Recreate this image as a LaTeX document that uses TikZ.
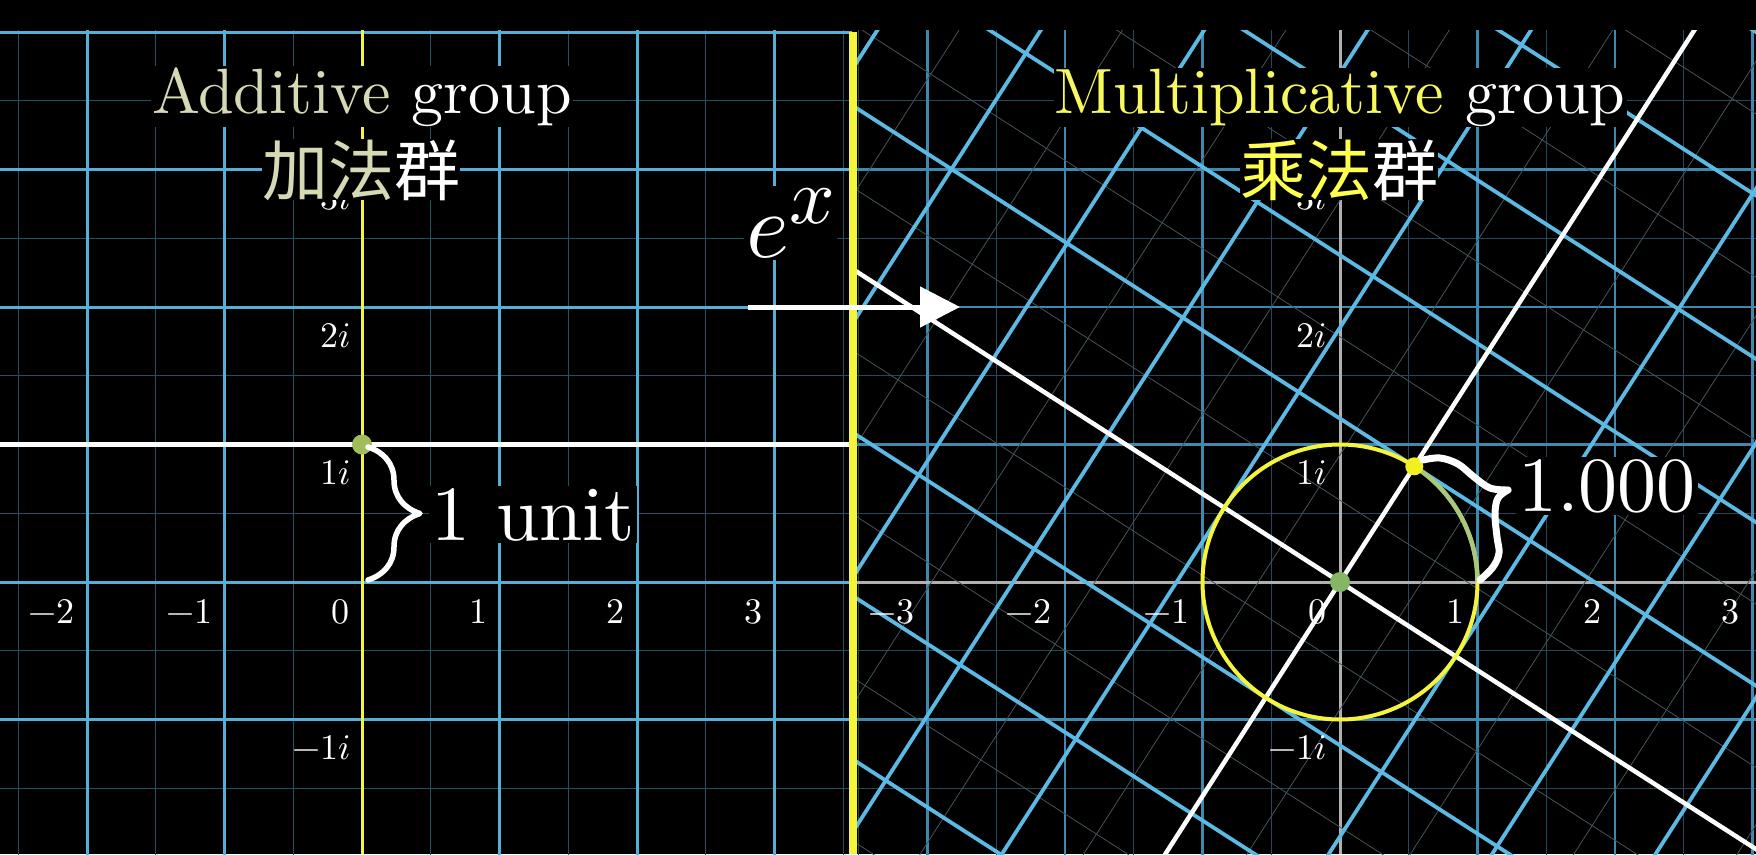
\documentclass[tikz,border=0pt]{standalone}
\usepackage{fontspec}
\usepackage{unicode-math}
\setmainfont{lmroman10-regular.otf}[ItalicFont=lmroman10-italic.otf, BoldFont=lmroman10-bold.otf]
\setmathfont{Latin Modern Math}
\newfontfamily\cjkfont{Noto Sans CJK SC}
\usetikzlibrary{arrows.meta,decorations.pathreplacing}

\definecolor{majblue}{HTML}{55B0D8}
\definecolor{minblue}{HTML}{24505F}
\definecolor{dimblue}{HTML}{3F88AE}
\definecolor{dimminor}{HTML}{26485A}
\definecolor{rotblue}{HTML}{5BB9E3}
\definecolor{rotminor}{HTML}{44545B}
\definecolor{axgray}{HTML}{B0B0B0}
\definecolor{ylw}{HTML}{F4F43C}
\definecolor{ylwtext}{HTML}{F7F75E}
\definecolor{ylwcjk}{HTML}{FFFF4D}
\definecolor{addc}{HTML}{D6D9B4}
\definecolor{dotgreen}{HTML}{85B565}
\definecolor{dotolive}{HTML}{A2BC5C}
\definecolor{ylwdot}{HTML}{F2F020}
\definecolor{arcgreen}{HTML}{A8C87C}

\begin{document}
\begin{tikzpicture}[x=1pt,y=-1pt,
  majl/.style={line width=3pt, draw=majblue},
  minl/.style={line width=1.3pt, draw=minblue},
  dimmaj/.style={line width=2.8pt, draw=dimblue},
  dimmin/.style={line width=1.1pt, draw=dimminor},
  rotmaj/.style={line width=3.8pt, draw=rotblue},
  rotmin/.style={line width=0.8pt, draw=rotminor},
  whl/.style={line width=4.5pt, draw=white},
  axl/.style={line width=3pt, draw=axgray},
  yax/.style={line width=3pt, draw=ylw},
  circl/.style={line width=4pt, draw=ylw},
  garc/.style={line width=4.5pt, draw=arcgreen},
  numlbl/.style={anchor=base east, text=white, inner sep=0pt, font=\fontsize{36}{36}\selectfont},
  titlebox/.style={anchor=base, text=white, fill=black, inner sep=1pt, font=\fontsize{64}{64}\selectfont},
  cjkbox/.style={anchor=base, text=white, fill=black, inner sep=0pt, font=\cjkfont\fontsize{66}{66}\selectfont},
  bigtxt/.style={anchor=base west, text=white, fill=black, inner sep=2pt, font=\fontsize{78}{78}\selectfont},
  dotstyle/.style={circle, inner sep=0pt, minimum size=20pt},
  bracel/.style={draw=white, line width=5.5pt, line cap=round, line join=round},
]
\fill[black] (0,0) rectangle (1756,854);
\useasboundingbox (0,0) rectangle (1756,854);

% ---------- left panel ----------
\begin{scope}
\clip (0,30.5) rectangle (852,854);
\foreach \k in {-3,...,3} \draw[minl] ({362+137.5*(\k+0.5)},30) -- ++(0,830);
\foreach \k in {-4,...,1} \draw[minl] (0,{582+137.5*(\k+0.5)}) -- ++(860,0);
\foreach \k in {-2,-1,1,2,3} \draw[majl] ({362+137.5*(\k)},30) -- ++(0,830);
\foreach \k in {-1,0,1,2,3,4} \draw[majl] (0,{582-137.5*(\k)}) -- ++(860,0);
\draw[yax] (362,30) -- (362,854);
\draw[whl] (0,444.5) -- (853,444.5);
\end{scope}
\foreach \k in {-2,...,3} \node[numlbl] (lr\k) at ({362+137.5*(\k)-12},623) {$\k$};
\foreach \k in {3,2,1,-1} \node[numlbl] (li\k) at (351,{582-137.5*(\k)+40}) {$\k i$};

% ---------- right panel ----------
\begin{scope}
\clip (857,30.5) rectangle (1756,854);
\foreach \k in {-4,...,2} \draw[dimmin] ({1340+137.5*(\k+0.5)},30) -- ++(0,830);
\foreach \k in {-4,...,1} \draw[dimmin] (850,{582+137.5*(\k+0.5)}) -- ++(910,0);
\foreach \k in {-3,-2,-1,1,2,3} \draw[dimmaj] ({1340+137.5*(\k)},30) -- ++(0,830);
\foreach \k in {-1,1,2,3} \draw[dimmaj] (850,{582-137.5*(\k)}) -- ++(910,0);
\draw[axl] (1340,30) -- (1340,854);
\draw[axl] (850,582) -- (1756,582);
\begin{scope}[shift={(1340,582)}, x=137.5pt, y=137.5pt, rotate=57.2958]
  \foreach \k in {-6.5,-5.5,...,6.5} {\draw[rotmin] (\k,-8) -- (\k,8); \draw[rotmin] (-8,\k) -- (8,\k);}
  \foreach \k in {-6,-5,-4,-3,-2,-1,1,2,3,4,5,6} {\draw[rotmaj] (\k,-8) -- (\k,8); \draw[rotmaj] (-8,\k) -- (8,\k);}
  \draw[whl] (0,-8) -- (0,8);
  \draw[whl] (-8,0) -- (8,0);
\end{scope}
\begin{scope}[shift={(1340,582)}, x=137.5pt, y=137.5pt]
  \coordinate (O) at (0,0);
  \coordinate (ei) at (57.2958:1);
  \coordinate (one) at (1,0);
\end{scope}
\draw[circl] (O) circle[radius=137.5pt];
\draw[garc] (ei) arc[start angle=57.2958, end angle=0, radius=137.5pt];
\end{scope}
\foreach \k in {-3,...,3} \node[numlbl] (rr\k) at ({1340+137.5*(\k)-13},623) {$\k$};
\foreach \k in {3,2,1,-1} \node[numlbl] (ri\k) at (1327,{582-137.5*(\k)+40}) {$\k i$};

% ---------- boundary ----------
\draw[draw=ylw, line width=8pt] (853,32) -- (853,854);

% ---------- arrow and e^x ----------
\coordinate (arrS) at (748,307);
\coordinate (arrE) at (960,307);
\draw[white, line width=5pt, -{Triangle[length=40pt, width=40pt]}] (arrS) -- (arrE);
\node[anchor=base west, text=white, fill=black, inner sep=2pt, font=\fontsize{92}{92}\selectfont] (ex) at (744,257) {$e^{\hbox{\fontsize{80}{80}\selectfont$x$}}$};

% ---------- dots ----------
\node[dotstyle, fill=dotolive] (ldot) at (362,444.5) {};
\node[dotstyle, fill=dotgreen] (odot) at (O) {};
\node[dotstyle, fill=ylwdot, minimum size=18pt] (edot) at (ei) {};

% ---------- braces ----------
\coordinate (lbt) at (368,447);
\coordinate (lbb) at (368,580);
\draw[bracel, decorate, decoration={brace, amplitude=52pt}] (lbt) -- (lbb);
\draw[bracel, line width=7pt] plot[smooth, tension=0.6] coordinates {(1423,460) (1440,458) (1458,464) (1474,477) (1490,488) (1508,490)};
\draw[bracel, line width=7pt] plot[smooth, tension=0.6] coordinates {(1508,490) (1498,498) (1495,514) (1497,537) (1499,553) (1493,567) (1480,580)};

% ---------- texts ----------
\node[bigtxt] (unit) at (429,540) {1 unit};
\node[bigtxt] (val) at (1516,511) {1.000};
\node[titlebox] (tadd) at (362,113) {\textcolor{addc}{Additive} group};
\node[cjkbox] (cadd) at (361,195) {\textcolor{addc}{加法}群};
\node[titlebox] (tmul) at (1340,113) {\textcolor{ylwtext}{Multiplicative} group};
\node[cjkbox] (cmul) at (1339,195) {\textcolor{ylwcjk}{乘法}群};
\end{tikzpicture}
\end{document}
